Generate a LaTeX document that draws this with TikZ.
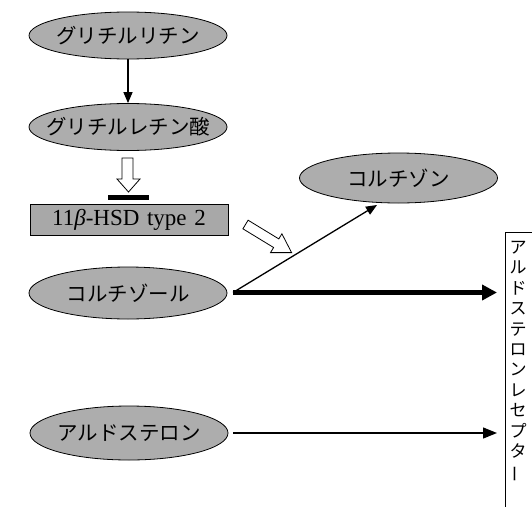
\documentclass[tikz,border=0pt]{standalone}
\usepackage{fontspec}
\setmainfont{Liberation Serif}
\newfontfamily\jp{Noto Sans CJK JP}
\usetikzlibrary{shapes.geometric,arrows.meta}
\definecolor{cellgray}{gray}{0.68}
\definecolor{boxgray}{gray}{0.66}
\tikzset{
  x=1pt,y=-1pt,
  blob/.style={ellipse,draw=black,line width=0.8pt,fill=cellgray,inner xsep=-12pt,inner ysep=0pt,
    minimum width=198pt,minimum height=47pt,font=\jp\fontsize{20.5}{20.5}\selectfont},
  enzbox/.style={rectangle,draw=black,line width=0.8pt,fill=boxgray,inner sep=0pt,
    minimum width=198pt,minimum height=31pt,text width=198pt,align=center,
    font=\fontsize{23}{23}\selectfont},
  thinarr/.style={line width=1.3pt,-{Triangle[length=11pt,width=9pt]}},
  thickarr/.style={line width=4.5pt,-{Triangle[length=15pt,width=15pt]}},
  hollow/.style={draw=black,line width=0.8pt,fill=white,line join=miter},
}
\begin{document}
\begin{tikzpicture}
\useasboundingbox (0,0) rectangle (532,506);
\clip (0,0) rectangle (532,506);
\fill[white] (0,0) rectangle (532,506);

\node[blob] (gl) at (128,35.5) {グリチルリチン};
\node[blob] (ga) at (128,127) {グリチルレチン酸};
\node[enzbox] (hsd) at (129,219.5) {11\textit{β}-HSD type 2};
\node[blob,minimum height=50pt] (cn) at (398.5,178) {コルチゾン};
\node[blob,minimum height=52pt] (cl) at (128,293) {コルチゾール};
\node[blob,minimum height=54pt] (al) at (129,433) {アルドステロン};

\node[rectangle,draw=black,line width=0.8pt,minimum width=50pt,minimum height=300pt,
  anchor=north west,inner sep=0pt] (rec) at (505,232) {};
\node[align=center,inner sep=0pt,font=\jp\fontsize{17}{20.4}\selectfont,anchor=north]
  (rectext) at (518,241) {ア\\ル\\ド\\ス\\テ\\ロ\\ン\\レ\\セ\\プ\\タ\\\rotatebox[origin=c]{90}{ー}};

\draw[thinarr] (gl.south) -- (ga.north);

% hollow arrow onto the inhibition bar
\draw[hollow] (122,158) -- (133,158) -- (133,179) -- (140,179) -- (128.5,192)
  -- (117,179) -- (122,179) -- cycle;
\coordinate (barl) at (108,197.5);
\coordinate (barr) at (149,197.5);
\draw[line width=4.5pt] (barl) -- (barr);

% diagonal hollow arrow
\draw[hollow] (242.9,228.8) -- (273.6,247.5) -- (270.5,252.6) -- (291.6,252.6)
  -- (281.9,233.8) -- (278.8,238.9) -- (248.1,220.2) -- cycle;

\coordinate (clout) at (233,292.5);
\coordinate (cnin) at (377,205);
\coordinate (alout) at (233,433);
\draw[thinarr] (clout) -- (cnin);
\draw[thickarr,shorten >=8pt] (clout) -- (rec.west |- clout);
\draw[line width=1.3pt,-{Triangle[length=14pt,width=11pt]},shorten >=8pt] (alout) -- (rec.west |- alout);
\end{tikzpicture}
\end{document}
